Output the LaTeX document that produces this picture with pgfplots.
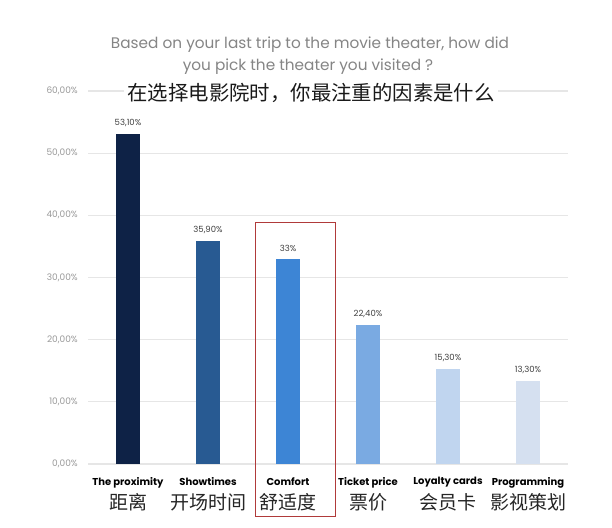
\documentclass[border=0pt]{standalone}
\usepackage{fontspec}
\setmainfont{Poppins}
\newfontfamily\cjk{Noto Sans CJK SC}
\usepackage{pgfplots}
\pgfplotsset{compat=1.18}
\definecolor{c1}{HTML}{0E2246}
\definecolor{c2}{HTML}{285A92}
\definecolor{c3}{HTML}{3D85D5}
\definecolor{c4}{HTML}{7AAAE2}
\definecolor{c5}{HTML}{C0D5EF}
\definecolor{c6}{HTML}{D5E0F0}
\definecolor{gridc}{HTML}{E6E6E6}
\definecolor{titlec}{HTML}{858585}
\definecolor{tickc}{HTML}{9A9A9A}
\definecolor{boxred}{HTML}{B03A3A}
\begin{document}
\begin{tikzpicture}
\useasboundingbox[fill=white] (0,0) rectangle (612pt,527pt);
\begin{axis}[
  at={(88pt,63pt)}, anchor=south west,
  scale only axis, width=480pt, height=373pt,
  xmin=-0.5, xmax=5.5, ymin=0, ymax=60,
  axis line style={draw=none},
  major tick length=0pt,
  ytick={0,10,20,30,40,50,60},
  yticklabels={{0,00\%},{10,00\%},{20,00\%},{30,00\%},{40,00\%},{50,00\%},{60,00\%}},
  yticklabel style={anchor=east, inner sep=0pt, xshift=-10pt, font=\fontsize{9}{9}\selectfont, text=tickc},
  ymajorgrids, grid style={draw=gridc, line width=1.3pt},
  xtick={0,1,2,3,4,5},
  xticklabels={The proximity,Showtimes,Comfort,Ticket price,Loyalty cards,Programming},
  xticklabel style={anchor=north, inner sep=0pt, yshift=-13pt, font=\bfseries\fontsize{10}{10}\selectfont, text=black},
  extra x ticks={0,1,2,3,4,5},
  extra x tick labels={距离,开场时间,舒适度,票价,会员卡,影视策划},
  extra x tick style={grid=none, xticklabel style={anchor=north, inner sep=0pt, yshift=-16pt, font=\cjk\fontsize{19}{19}\selectfont, text=black!85}},
  ybar, bar width=24pt,
  nodes near coords, point meta=explicit symbolic,
  every node near coord/.append style={font=\fontsize{8.5}{8.5}\selectfont, text=black!75, inner sep=0pt, yshift=7pt, anchor=south},
  clip=false,
]
\addplot[draw=none, fill=c1, bar shift=0pt] coordinates {(0,53.1) [53,10\%]};
\addplot[draw=none, fill=c2, bar shift=0pt] coordinates {(1,35.9) [35,90\%]};
\addplot[draw=none, fill=c3, bar shift=0pt] coordinates {(2,33.0) [33\%]};
\addplot[draw=none, fill=c4, bar shift=0pt] coordinates {(3,22.4) [22,40\%]};
\addplot[draw=none, fill=c5, bar shift=0pt] coordinates {(4,15.3) [15,30\%]};
\addplot[draw=none, fill=c6, bar shift=0pt] coordinates {(5,13.3) [13,30\%]};
\end{axis}
\node[text=titlec, font=\fontsize{15.3}{15.3}\selectfont] at (310pt,482pt) {Based on your last trip to the movie theater, how did};
\node[text=titlec, font=\fontsize{15.3}{15.3}\selectfont] at (308pt,460pt) {you pick the theater you visited ?};
\node[fill=white, inner xsep=3pt, inner ysep=1pt, text=black!90, font=\cjk\fontsize{20.4}{20.4}\selectfont] at (311pt,434pt) {在选择电影院时，你最注重的因素是什么};
\draw[boxred, line width=0.8pt] (255pt,11pt) rectangle (335pt,305pt);
\end{tikzpicture}
\end{document}
